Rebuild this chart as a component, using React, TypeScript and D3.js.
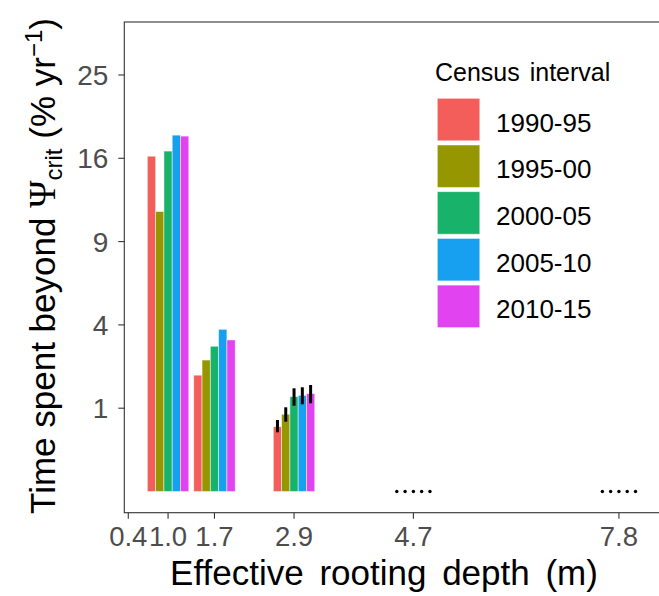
import React from "react";
import * as d3 from "d3";

const intervals = ["1990-95", "1995-00", "2000-05", "2005-10", "2010-15"];
const colors = ["#F35E5A", "#969600", "#19B26A", "#16A0EF", "#E043EF"];
const depths = [1.0, 1.7, 2.9, 4.7, 7.8];
const xTicks = [0.4, 1.0, 1.7, 2.9, 4.7, 7.8];
const yTicks = [1, 4, 9, 16, 25];

// time spent beyond psi_crit (% per yr) per interval, across depths
const v1990 = [16.2, 1.95, 0.605, 0, 0];
const v1995 = [11.3, 2.49, 0.86, 0, 0];
const v2000 = [16.7, 3.04, 1.295, 0, 0];
const v2005 = [18.3, 3.79, 1.33, 0, 0];
const v2010 = [18.2, 3.31, 1.38, 0, 0];
const seriesValues = [v1990, v1995, v2000, v2005, v2010];

// error bars at depth 2.9
const errDepth = 2.9;
const errLower = [0.505, 0.702, 1.061, 1.096, 1.121];
const errUpper = [0.737, 1.022, 1.535, 1.565, 1.635];

const W = 659;
const H = 596;
const panel = { left: 124.3, top: 22, bottom: 512.7, right: 698.5 };
const barWidth = 0.125;
const font = "'Liberation Sans', Arial, Helvetica, sans-serif";

export default function App() {
  const x = d3.scaleLinear().domain([0.34, 9.0]).range([panel.left, panel.right]);
  const ys = d3.scaleLinear().domain([-0.2545, 5.636]).range([panel.bottom, panel.top]);
  const y = (v: number) => ys(Math.sqrt(v));
  const bw = x(barWidth) - x(0);
  const offset = (i: number) => (i - (intervals.length - 1) / 2) * barWidth;

  const bars: React.ReactNode[] = [];
  const dots: React.ReactNode[] = [];
  seriesValues.forEach((vals, si) => {
    vals.forEach((v, di) => {
      const cx = x(depths[di] + offset(si));
      if (v > 0) {
        bars.push(
          <rect
            key={`b${si}-${di}`}
            x={cx - bw / 2}
            y={y(v)}
            width={bw}
            height={y(0) - y(v)}
            fill={colors[si]}
            stroke="#ffffff"
            strokeOpacity={0.6}
            strokeWidth={0.8}
          />
        );
      } else {
        dots.push(<circle key={`d${si}-${di}`} cx={cx} cy={y(0)} r={1.7} fill="#000" />);
      }
    });
  });

  const errs = intervals.map((_, si) => {
    const cx = x(errDepth + offset(si));
    return (
      <line
        key={`e${si}`}
        x1={cx}
        x2={cx}
        y1={y(errLower[si])}
        y2={y(errUpper[si])}
        stroke="#000"
        strokeWidth={3}
      />
    );
  });

  const legendTop = 98.3;
  const keyPitch = 46.7;
  const keySize = 42.5;

  return (
    <svg
      width={W}
      height={H}
      style={{ position: "absolute", left: 0, top: 0, background: "#fff" }}
      fontFamily={font}
    >
      <rect x={0} y={0} width={W} height={H} fill="#fff" />
      {bars}
      {errs}
      {dots}
      {/* panel border */}
      <rect
        x={panel.left}
        y={panel.top}
        width={panel.right - panel.left}
        height={panel.bottom - panel.top}
        fill="none"
        stroke="#333333"
        strokeWidth={1.1}
      />
      {/* y axis ticks */}
      {yTicks.map((t) => (
        <g key={`yt${t}`}>
          <line x1={panel.left - 6} x2={panel.left} y1={y(t)} y2={y(t)} stroke="#333333" strokeWidth={1.1} />
          <text x={panel.left - 16} y={y(t) + 10} textAnchor="end" fontSize={28} fill="#4D4D4D">
            {t}
          </text>
        </g>
      ))}
      {/* x axis ticks */}
      {xTicks.map((t) => (
        <g key={`xt${t}`}>
          <line x1={x(t)} x2={x(t)} y1={panel.bottom} y2={panel.bottom + 6} stroke="#333333" strokeWidth={1.1} />
          <text x={x(t)} y={546} textAnchor="middle" fontSize={27.5} fill="#4D4D4D">
            {t.toFixed(1)}
          </text>
        </g>
      ))}
      {/* axis titles */}
      <text x={384} y={585} textAnchor="middle" fontSize={35} fill="#000" wordSpacing={6}>
        Effective rooting depth (m)
      </text>
      <text
        transform={`translate(55, 266) rotate(-90)`}
        textAnchor="middle"
        fontSize={35}
        fill="#000"
      >
        <tspan>Time spent beyond </tspan>
        <tspan fontFamily="'Liberation Serif', 'DejaVu Serif', serif" fontSize={37}>Ψ</tspan>
        <tspan fontSize={24} dy={7}>crit</tspan>
        <tspan dy={-7}> (% yr</tspan>
        <tspan fontSize={24} dy={-13}>−1</tspan>
        <tspan dy={13}>)</tspan>
      </text>
      {/* legend */}
      <text x={435} y={80.7} fontSize={25} fill="#000" wordSpacing={3}>
        Census interval
      </text>
      {intervals.map((lab, i) => {
        const ky = legendTop + i * keyPitch;
        return (
          <g key={`lg${lab}`}>
            <rect
              x={437.3}
              y={ky}
              width={keySize}
              height={keySize}
              fill={colors[i]}
              stroke="#ffffff"
              strokeOpacity={0.6}
              strokeWidth={0.8}
            />
            <text x={496} y={ky + keySize / 2 + 12} fontSize={26} fill="#000">
              {lab}
            </text>
          </g>
        );
      })}
    </svg>
  );
}
